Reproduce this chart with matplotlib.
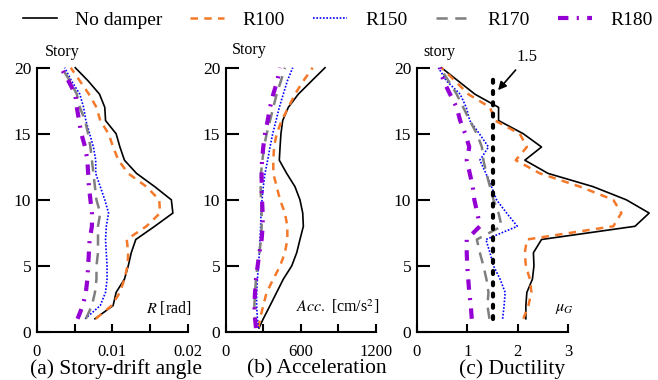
import numpy as np
import matplotlib
matplotlib.use('Agg')
import matplotlib.pyplot as plt

plt.rcParams['font.family'] = ['Liberation Serif', 'DejaVu Serif']
plt.rcParams['mathtext.fontset'] = 'stix'

# story levels
stories = np.arange(1, 21)
stories_acc = np.concatenate([[0.3], np.arange(1, 21)])

# (a) story-drift angle [rad], story 1 -> 20
drift_none = [0.0077, 0.0101, 0.0105, 0.0116, 0.0121, 0.0125, 0.0131, 0.0156, 0.0180, 0.0178,
              0.0156, 0.0132, 0.0116, 0.0110, 0.0105, 0.0091, 0.0090, 0.0083, 0.0068, 0.0051]
drift_r100 = [0.0078, 0.0099, 0.0110, 0.0116, 0.0120, 0.0121, 0.0119, 0.0145, 0.0163, 0.0162,
              0.0145, 0.0121, 0.0108, 0.0101, 0.0095, 0.0084, 0.0079, 0.0069, 0.0057, 0.0045]
drift_r150 = [0.0064, 0.0084, 0.0091, 0.0093, 0.0093, 0.0092, 0.0091, 0.0092, 0.0095, 0.0090,
              0.0084, 0.0078, 0.0078, 0.0075, 0.0070, 0.0065, 0.0062, 0.0057, 0.0046, 0.0037]
drift_r170 = [0.0065, 0.0073, 0.0077, 0.0079, 0.0079, 0.0081, 0.0081, 0.0081, 0.0084, 0.0079,
              0.0077, 0.0075, 0.0073, 0.0071, 0.0068, 0.0064, 0.0057, 0.0053, 0.0044, 0.0033]
drift_r180 = [0.0054, 0.0061, 0.0065, 0.0067, 0.0068, 0.0069, 0.0070, 0.0073, 0.0073, 0.0071,
              0.0069, 0.0068, 0.0067, 0.0064, 0.0059, 0.0056, 0.0053, 0.0051, 0.0042, 0.0032]

# (b) acceleration [cm/s2], level 0.3, 1 -> 20
acc_none = [266, 300, 354, 407, 460, 527, 567, 593, 620, 615, 593, 553, 487, 428, 434, 441, 455, 500, 580, 686, 793]
acc_r100 = [261, 274, 300, 327, 380, 434, 473, 492, 492, 473, 434, 407, 380, 380, 386, 407, 447, 500, 553, 620, 694]
acc_r150 = [261, 253, 247, 247, 253, 261, 269, 274, 279, 282, 290, 300, 314, 335, 354, 375, 402, 428, 460, 492, 535]
acc_r170 = [247, 234, 229, 234, 242, 253, 269, 282, 287, 287, 282, 279, 282, 293, 306, 327, 354, 380, 407, 441, 473]
acc_r180 = [242, 234, 229, 234, 242, 255, 269, 287, 295, 295, 290, 287, 287, 290, 300, 314, 335, 354, 380, 412, 434]

# (c) ductility, story 1 -> 20
mu_none = [2.16, 2.16, 2.18, 2.29, 2.32, 2.31, 2.47, 4.32, 4.60, 4.15,
           3.49, 2.60, 2.14, 2.47, 2.11, 1.62, 1.62, 1.15, 0.82, 0.49]
mu_r100 = [2.11, 2.21, 2.27, 2.24, 2.16, 2.14, 2.18, 3.89, 4.05, 3.89,
           3.23, 2.44, 1.96, 2.18, 2.04, 1.55, 1.45, 1.02, 0.76, 0.49]
mu_r150 = [1.70, 1.73, 1.75, 1.65, 1.52, 1.45, 1.37, 1.99, 1.78, 1.58,
           1.48, 1.37, 1.25, 1.42, 1.24, 1.05, 0.98, 0.86, 0.59, 0.43]
mu_r170 = [1.44, 1.40, 1.42, 1.38, 1.32, 1.25, 1.19, 1.68, 1.62, 1.52,
           1.45, 1.38, 1.32, 1.29, 1.19, 1.05, 0.92, 0.79, 0.63, 0.46]
mu_r180 = [1.09, 1.07, 1.04, 1.02, 1.00, 0.99, 0.99, 1.25, 1.20, 1.14,
           1.11, 1.05, 0.99, 1.04, 0.96, 0.86, 0.79, 0.66, 0.53, 0.46]
mu_limit = 1.5

labels = ['No damper', 'R100', 'R150', 'R170', 'R180']
styles = [
    dict(color='black', lw=1.2, ls='-'),
    dict(color='#F4792A', lw=1.8, ls=(0, (3, 2.5))),
    dict(color='#0000FF', lw=1.2, ls=(0, (1, 1))),
    dict(color='#7F7F7F', lw=1.8, ls=(0, (4.5, 3))),
    dict(color='#9400D3', lw=3.0, ls=(0, (2.5, 2, 0.5, 2))),
]

W, H = 658, 380
fig = plt.figure(figsize=(W / 100, H / 100), dpi=100)

def make_ax(left_px, width_px):
    ax = fig.add_axes([left_px / W, 1 - 332 / H, width_px / W, (332 - 67.7) / H])
    for s in ['top', 'right']:
        ax.spines[s].set_visible(False)
    for s in ['left', 'bottom']:
        ax.spines[s].set_linewidth(1.5)
    ax.set_ylim(0, 20)
    ax.set_yticks([0, 5, 10, 15, 20])
    ax.tick_params(axis='y', direction='in', length=9, width=1.5, labelsize=12.5, pad=4)
    ax.tick_params(axis='x', direction='in', length=6, width=1.5, labelsize=12, pad=9)
    return ax

ax1 = make_ax(36.7, 151.3)
ax2 = make_ax(225.7, 150.3)
ax3 = make_ax(416.7, 151.6)

for data, st in zip([drift_none, drift_r100, drift_r150, drift_r170, drift_r180], styles):
    ax1.plot(data, stories, clip_on=False, **st)
for data, st in zip([acc_none, acc_r100, acc_r150, acc_r170, acc_r180], styles):
    ax2.plot(data, stories_acc, clip_on=False, **st)
lines = []
for data, st, lab in zip([mu_none, mu_r100, mu_r150, mu_r170, mu_r180], styles, labels):
    ln, = ax3.plot(data, stories, clip_on=False, label=lab, **st)
    lines.append(ln)

# ductility limit line
ax3.plot([mu_limit, mu_limit], [1, 19.3], color='black', lw=3,
         ls=(0, (0.7, 2.0)), dash_capstyle='round', clip_on=False)
ax3.annotate('1.5', xy=(1.61, 18.3), xytext=(2.18, 20.8), fontsize=12,
             ha='center', va='center', annotation_clip=False,
             arrowprops=dict(arrowstyle='-|>', color='black', lw=1.2, shrinkA=2, shrinkB=0))

ax1.set_xlim(0, 0.02)
ax1.set_xticks([0, 0.005, 0.01, 0.015, 0.02])
ax1.set_xticklabels(['0', '', '0.01', '', '0.02'])
ax2.set_xlim(0, 1200)
ax2.set_xticks([0, 300, 600, 900, 1200])
ax2.set_xticklabels(['0', '', '600', '', '1200'])
ax3.set_xlim(0, 3)
ax3.set_xticks([0, 1, 2, 3])
ax3.set_xticklabels(['0', '1', '2', '3'])

ax1.text(0.167, 1.059, 'Story', transform=ax1.transAxes, ha='center', va='center', fontsize=11.5)
ax2.text(0.155, 1.067, 'Story', transform=ax2.transAxes, ha='center', va='center', fontsize=11.5)
ax3.text(0.147, 1.059, 'story', transform=ax3.transAxes, ha='center', va='center', fontsize=11.5)

ax1.text(0.874, 0.091, '$R$ [rad]', transform=ax1.transAxes, ha='center', va='center', fontsize=11.5)
ax2.text(0.747, 0.095, '$Acc.$ [cm/s$^2$]', transform=ax2.transAxes, ha='center', va='center', fontsize=11.5)
ax3.text(0.978, 0.091, r'$\mu_G$', transform=ax3.transAxes, ha='center', va='center', fontsize=11.5)

fig.text(116 / W, 1 - 369 / H, '(a) Story-drift angle', ha='center', va='center', fontsize=15.5)
fig.text(317 / W, 1 - 369 / H, '(b) Acceleration', ha='center', va='center', fontsize=15.5)
fig.text(512 / W, 1 - 369 / H, '(c) Ductility', ha='center', va='center', fontsize=15.5)

fig.legend(lines, labels, loc='center left', bbox_to_anchor=(13 / W, 1 - 20 / H), ncol=5,
           frameon=False, fontsize=14, borderpad=0, handlelength=1.75, handletextpad=0.93,
           columnspacing=1.45)

fig.savefig('out.png', dpi=100)
